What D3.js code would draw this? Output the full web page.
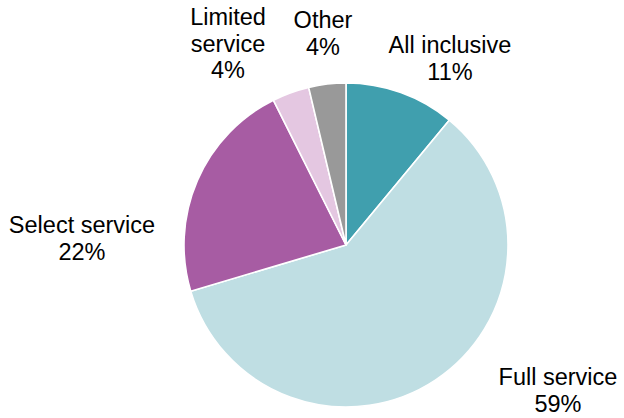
<!DOCTYPE html>
<html>
<head>
<meta charset="utf-8">
<script src="https://cdn.jsdelivr.net/npm/d3@7"></script>
<style>
  html, body { margin: 0; padding: 0; background: #ffffff; }
  svg { display: block; }
  text { font-family: "Liberation Sans", Arial, sans-serif; fill: #000; }
</style>
</head>
<body>
<svg id="chart" width="624" height="418"></svg>
<script>
// Hotel segment shares (percent, one decimal; labels show whole numbers)
const categories = ["All inclusive", "Full service", "Select service", "Limited service", "Other"];
const shares = [11.0, 59.4, 22.2, 3.7, 3.7];
const colours = ["#409fae", "#bfdee3", "#a75ca3", "#e4c7e1", "#999999"];

// Label text lines per category
const labelLines = [
  ["All inclusive"],
  ["Full service"],
  ["Select service"],
  ["Limited", "service"],
  ["Other"]
];

// Label anchor offsets from the pie centre (first baseline)
const labelOffsets = [
  [104, -192],
  [212, 140],
  [-264, -12],
  [-118, -220],
  [-23, -217]
];

const width = 624, height = 418;
const cx = 346, cy = 245, radius = 162;
const fontSize = 23.5, lineGap = 26.5;

const svg = d3.select("#chart");
const g = svg.append("g").attr("transform", `translate(${cx},${cy})`);

const data = categories.map((c, i) => ({ category: c, value: shares[i], i }));

const pie = d3.pie()
  .value(d => d.value)
  .sort(null)
  .startAngle(0)
  .endAngle(2 * Math.PI);

const arc = d3.arc().innerRadius(0).outerRadius(radius);

const color = d3.scaleOrdinal().domain(categories).range(colours);

g.selectAll("path.slice")
  .data(pie(data))
  .join("path")
  .attr("class", "slice")
  .attr("d", arc)
  .attr("fill", d => color(d.data.category))
  .attr("stroke", "#ffffff")
  .attr("stroke-width", 1.6)
  .attr("stroke-linejoin", "round");

const labels = g.selectAll("text.label")
  .data(pie(data))
  .join("text")
  .attr("class", "label")
  .attr("text-anchor", "middle")
  .attr("font-size", fontSize)
  .attr("transform", d => `translate(${labelOffsets[d.data.i][0]},${labelOffsets[d.data.i][1]})`);

labels.each(function (d) {
  const t = d3.select(this);
  const lines = labelLines[d.data.i].concat([Math.round(d.data.value) + "%"]);
  lines.forEach((line, k) => {
    t.append("tspan").attr("x", 0).attr("y", k * lineGap).text(line);
  });
});
</script>
</body>
</html>
